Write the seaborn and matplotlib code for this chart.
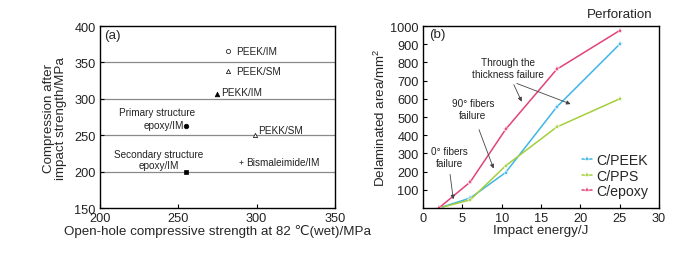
import matplotlib
matplotlib.use("Agg")
import matplotlib.pyplot as plt
import seaborn as sns
import pandas as pd

sns.set_theme(style="ticks")
plt.rcParams['font.family'] = ['Liberation Sans', 'DejaVu Sans']
plt.rcParams['mathtext.fontset'] = 'custom'
plt.rcParams['mathtext.rm'] = 'Liberation Sans'

# ---- Panel (a) data ----
mat_names = ["PEEK/IM", "PEEK/SM", "PEKK/IM", "Primary epoxy/IM", "PEKK/SM", "Bismaleimide/IM", "Secondary epoxy/IM"]
oh_strength = [282, 282, 275, 255, 299, 290, 255]
cai_strength = [366, 338, 307, 263, 250, 213, 200]

# ---- Panel (b) data ----
energy = [2, 6, 10.5, 17, 25]
peek_area = [0, 55, 195, 555, 900]
pps_area = [0, 45, 232, 445, 600]
epoxy_area = [0, 143, 432, 762, 975]

fig = plt.figure(figsize=(6.98, 2.55), dpi=100)
ax1 = fig.add_axes([0.143, 0.180, 0.337, 0.714])
ax2 = fig.add_axes([0.606, 0.180, 0.338, 0.714])

TFS = 9.2
LFS = 9.6
AFS = 7.2

# ---------- (a) ----------
for yv in [200, 250, 300, 350]:
    ax1.axhline(yv, color="#8a8a8a", lw=0.9, zorder=0)

dfa = pd.DataFrame({"name": mat_names, "x": oh_strength, "y": cai_strength})
marker_map = {
    "PEEK/IM": ("o", "white"),
    "PEEK/SM": ("^", "white"),
    "PEKK/IM": ("^", "black"),
    "Primary epoxy/IM": ("o", "black"),
    "PEKK/SM": ("^", "white"),
    "Bismaleimide/IM": ("+", "black"),
    "Secondary epoxy/IM": ("s", "black"),
}
for name in mat_names:
    m, fc = marker_map[name]
    sub = dfa[dfa["name"] == name]
    if m == "+":
        sns.scatterplot(data=sub, x="x", y="y", marker="+", color="#555555", s=12,
                        linewidth=0.7, ax=ax1, zorder=3)
    else:
        sns.scatterplot(data=sub, x="x", y="y", marker=m, facecolor=fc, edgecolor="black",
                        s=9 if fc == "white" else 11, linewidth=0.5, ax=ax1, zorder=3)

tk = dict(fontsize=AFS, color="#222222")
ax1.text(287.0, 366, "PEEK/IM", va="center", ha="left", **tk)
ax1.text(287.0, 338, "PEEK/SM", va="center", ha="left", **tk)
ax1.text(277.5, 309, "PEKK/IM", va="center", ha="left", **tk)
ax1.text(301.0, 257, "PEKK/SM", va="center", ha="left", **tk)
ax1.text(293.5, 213, "Bismaleimide/IM", va="center", ha="left", **tk)
ax1.text(236.5, 282, "Primary structure", va="center", ha="center", **tk)
ax1.text(241.0, 264, "epoxy/IM", va="center", ha="center", **tk)
ax1.text(237.5, 224, "Secondary structure", va="center", ha="center", **tk)
ax1.text(237.5, 209, "epoxy/IM", va="center", ha="center", **tk)
ax1.text(202.5, 387, "(a)", va="center", ha="left", fontsize=LFS)

ax1.set_xlim(200, 350)
ax1.set_ylim(150, 400)
ax1.set_xticks([200, 250, 300, 350])
ax1.set_yticks([150, 200, 250, 300, 350, 400])
ax1.set_xlabel("Open-hole compressive strength at 82 \u2103(wet)/MPa", fontsize=LFS, labelpad=0)
ax1.set_ylabel("Compression after\nimpact strength/MPa", fontsize=LFS, labelpad=5, linespacing=1.05)

# ---------- (b) ----------
dfb = pd.DataFrame({
    "energy": energy * 3,
    "area": peek_area + pps_area + epoxy_area,
    "material": ["C/PEEK"] * 5 + ["C/PPS"] * 5 + ["C/epoxy"] * 5,
})
palette = {"C/PEEK": "#3fb6e6", "C/PPS": "#a4cf3a", "C/epoxy": "#e2427c"}
sns.lineplot(data=dfb, x="energy", y="area", hue="material", palette=palette,
             marker="*", markersize=4, markeredgewidth=0.3, lw=1.1, ax=ax2)

ax2.set_xlim(0, 30)
ax2.set_ylim(0, 1000)
ax2.set_xticks([0, 5, 10, 15, 20, 25, 30])
ax2.set_yticks([100, 200, 300, 400, 500, 600, 700, 800, 900, 1000])
ax2.set_xlabel("Impact energy/J", fontsize=LFS, labelpad=0)
ax2.set_ylabel("Delaminated area/mm$^2$", fontsize=LFS, labelpad=2)

leg = ax2.legend(loc="lower right", frameon=False, fontsize=10.2, handlelength=0.7,
                 handletextpad=0.35, labelspacing=0.1, bbox_to_anchor=(1.01, -0.015))

ak = dict(fontsize=AFS, color="#222222", ha="center", va="center")
arr = dict(arrowstyle="-|>", color="#444444", lw=0.6, mutation_scale=6)
ax2.text(0.8, 955, "(b)", fontsize=LFS, ha="left", va="center")
ax2.text(25, 1035, "Perforation", fontsize=LFS, ha="center", va="bottom", clip_on=False)
ax2.text(10.8, 770, "Through the\nthickness failure", linespacing=1.2, **ak)
ax2.annotate("", xy=(12.7, 571), xytext=(11.4, 692), arrowprops=arr)
ax2.annotate("", xy=(19.1, 566), xytext=(11.6, 690), arrowprops=arr)
ax2.text(6.35, 545, "90° fibers\nfailure", linespacing=1.2, **ak)
ax2.annotate("", xy=(9.1, 203), xytext=(7.0, 445), arrowprops=arr)
ax2.text(3.4, 280, "0° fibers\nfailure", linespacing=1.2, **ak)
ax2.annotate("", xy=(3.9, 33), xytext=(3.4, 200), arrowprops=arr)

for ax in (ax1, ax2):
    for s in ax.spines.values():
        s.set_color("black")
        s.set_linewidth(1.0)
    ax.tick_params(direction="in", length=3, width=0.8, labelsize=TFS,
                   colors="black", labelcolor="#222222")
    ax.tick_params(axis="x", pad=3)
    ax.tick_params(axis="y", pad=3)

fig.savefig("out.png", dpi=100)
